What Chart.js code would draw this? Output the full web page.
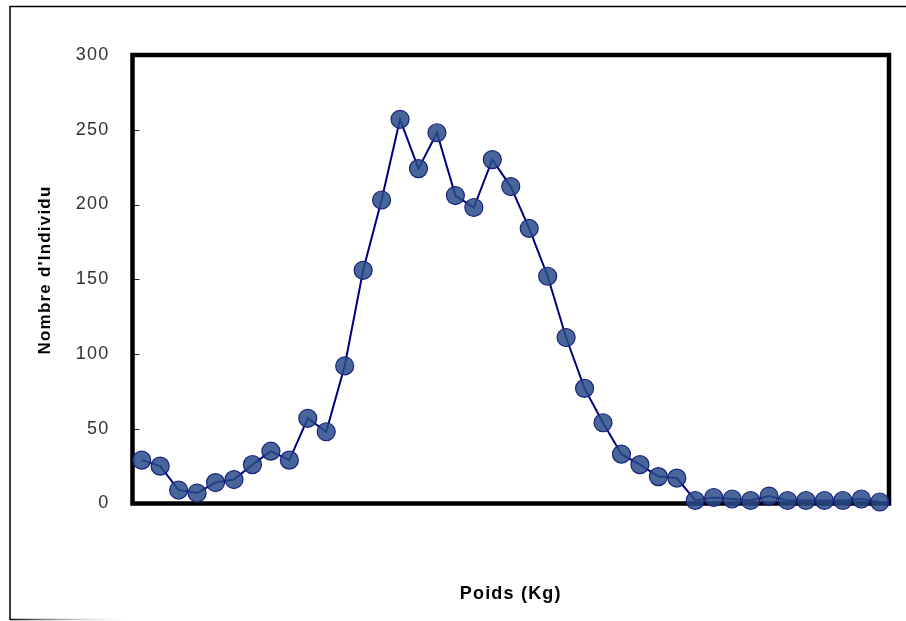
<!DOCTYPE html>
<html>
<head>
<meta charset="utf-8">
<script src="https://cdn.jsdelivr.net/npm/chart.js@4"></script>
<style>
  html, body { margin: 0; padding: 0; background: #fff; }
  #wrap { position: relative; width: 906px; height: 621px; }
</style>
</head>
<body>
<div id="wrap"><canvas id="c" width="906" height="621"></canvas></div>
<script>
// Weight classes (no tick labels shown in the original)
const categories = [1,2,3,4,5,6,7,8,9,10,11,12,13,14,15,16,17,18,19,20,21,22,23,24,25,26,27,28,29,30,31,32,33,34,35,36,37,38,39,40,41];
const counts = [29,25,9,7,14,16,26,35,29,57,48,92,156,203,257,224,248,206,198,230,212,184,152,111,77,54,33,26,18,17,2,4,3,2,5,2,2,2,2,3,1];
const yTicks = [0,50,100,150,200,250,300];
const xTitle = 'Poids (Kg)';
const yTitle = "Nombre d'Individu";

const FONT = 'Liberation Sans, Arial, sans-serif';
const SPACING = '1.2px';

const framePlugin = {
  id: 'frame',
  beforeUpdate(chart) { chart.ctx.letterSpacing = SPACING; },
  beforeDraw(chart) { chart.ctx.letterSpacing = SPACING; },
  beforeDatasetsDraw(chart) {
    const ctx = chart.ctx;
    const a = chart.chartArea;
    const y = chart.scales.y;
    ctx.save();
    // outer picture frame
    ctx.strokeStyle = '#000';
    ctx.lineWidth = 1.5;
    ctx.beginPath();
    ctx.moveTo(906, 6.5);
    ctx.lineTo(10, 6.5);
    ctx.lineTo(10, 620);
    ctx.stroke();
    const g = ctx.createLinearGradient(10, 0, 135, 0);
    g.addColorStop(0, '#000');
    g.addColorStop(1, 'rgba(255,255,255,0)');
    ctx.strokeStyle = g;
    ctx.beginPath();
    ctx.moveTo(10, 619.5);
    ctx.lineTo(135, 619.5);
    ctx.stroke();
    // inward y tick marks
    ctx.strokeStyle = '#222';
    ctx.lineWidth = 1;
    yTicks.forEach(v => {
      const py = Math.round(y.getPixelForValue(v)) + 0.5;
      ctx.beginPath();
      ctx.moveTo(a.left, py);
      ctx.lineTo(a.left + 7, py);
      ctx.stroke();
    });
    // plot frame
    ctx.strokeStyle = '#000';
    ctx.lineWidth = 4.5;
    ctx.lineJoin = 'miter';
    ctx.strokeRect(a.left, a.top, a.right - a.left, a.bottom - a.top);
    // y axis title
    ctx.fillStyle = '#000';
    ctx.font = 'bold 17px ' + FONT;
    ctx.textAlign = 'center';
    ctx.textBaseline = 'middle';
    ctx.translate(45, 270);
    ctx.rotate(-Math.PI / 2);
    ctx.fillText(yTitle, 0, 0);
    ctx.restore();
  }
};

new Chart(document.getElementById('c'), {
  type: 'line',
  data: {
    labels: categories,
    datasets: [{
      data: counts,
      borderColor: '#000080',
      borderWidth: 2,
      pointRadius: 9,
      pointHoverRadius: 9,
      pointBackgroundColor: 'rgba(40,75,135,0.85)',
      pointBorderColor: '#1a237e',
      pointBorderWidth: 1.2,
      tension: 0,
      clip: false
    }]
  },
  options: {
    responsive: false,
    animation: false,
    events: [],
    layout: { padding: { top: 55, right: 17, left: 0, bottom: 0 } },
    plugins: { legend: { display: false }, tooltip: { enabled: false } },
    scales: {
      x: {
        type: 'category',
        offset: true,
        grid: { display: false },
        border: { display: false },
        ticks: { display: false },
        title: {
          display: true,
          text: xTitle,
          color: '#000',
          font: { family: FONT, size: 18, weight: 'bold' },
          padding: { top: 0, bottom: 16 }
        },
        afterFit(s) { s.height = 117.5; }
      },
      y: {
        min: 0,
        max: 300,
        afterBuildTicks(s) { s.ticks = yTicks.map(v => ({ value: v })); },
        grid: { display: false, drawTicks: false },
        border: { display: false },
        ticks: {
          color: '#333',
          padding: 23,
          font: { family: FONT, size: 18 }
        },
        title: { display: false },
        afterFit(s) { s.width = 132.5; }
      }
    }
  },
  plugins: [framePlugin]
});
</script>
</body>
</html>
